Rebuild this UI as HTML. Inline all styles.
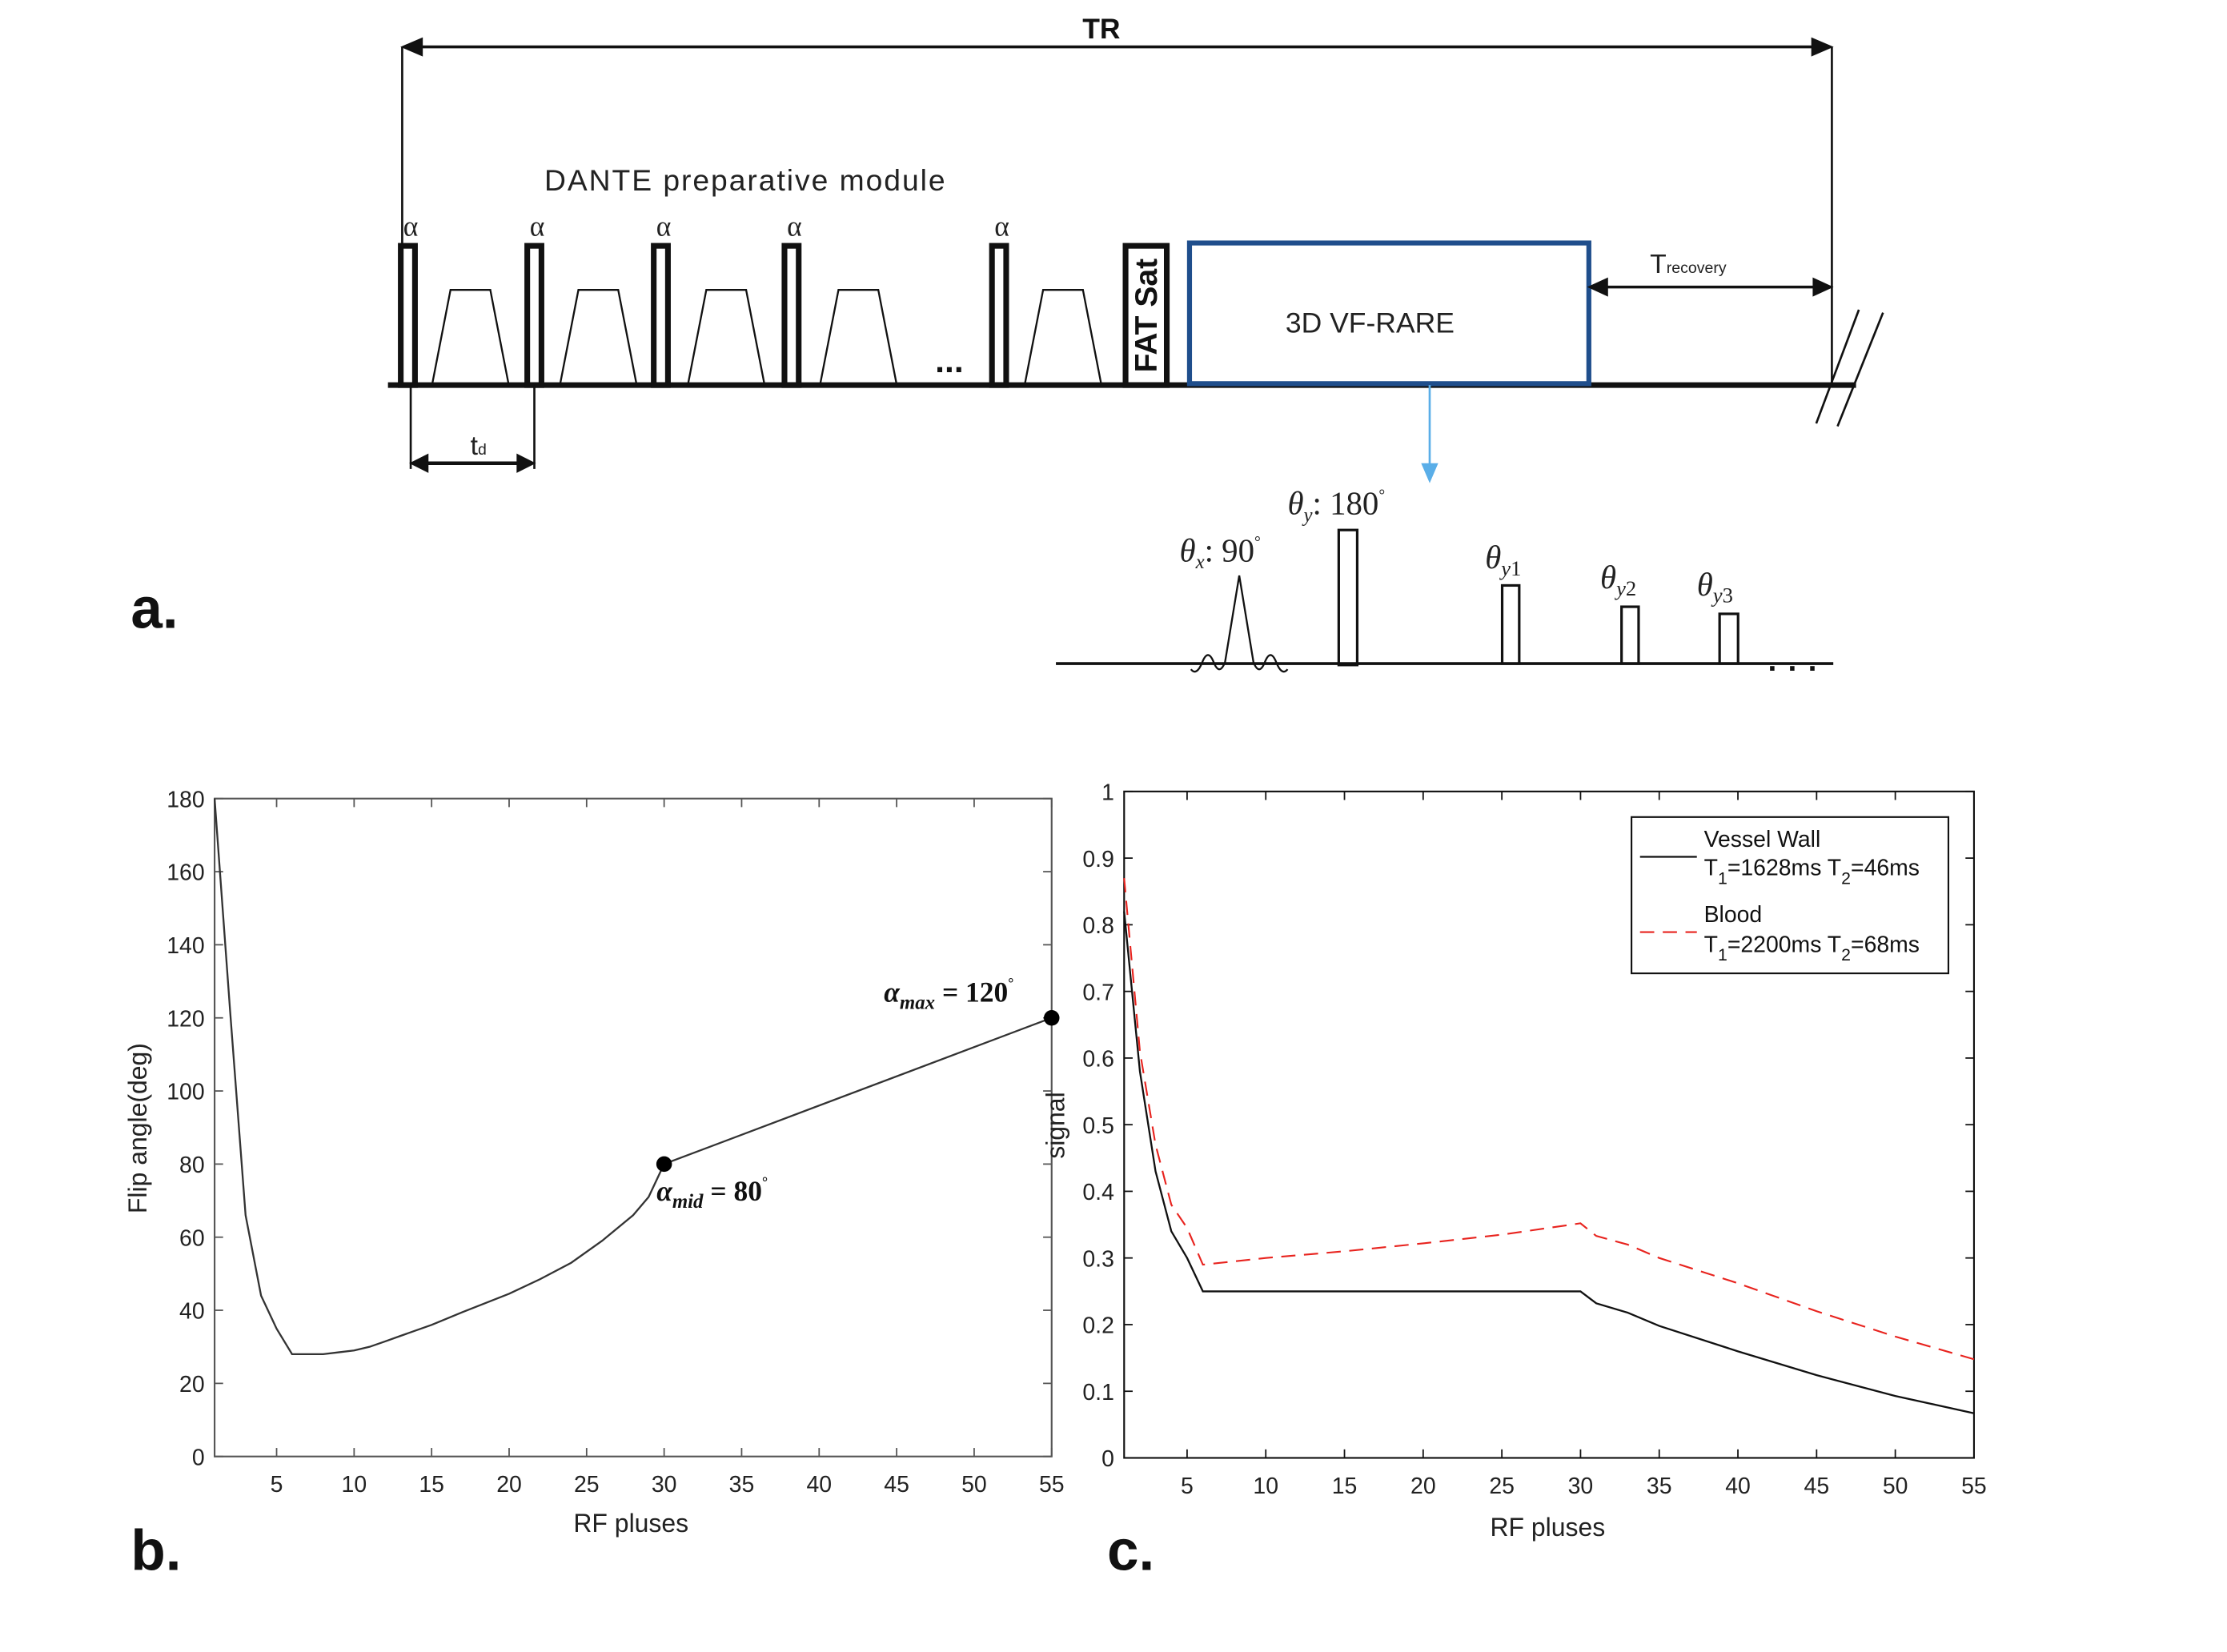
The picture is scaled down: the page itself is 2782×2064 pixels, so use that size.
<!DOCTYPE html>
<html><head><meta charset="utf-8"><style>
html,body{margin:0;padding:0;background:#fff;}
svg{display:block;font-family:"Liberation Sans",sans-serif;}
</style></head><body>
<svg id="fig" width="2782" height="2064" viewBox="0 0 1567 1162.6" preserveAspectRatio="xMinYMin meet" xmlns="http://www.w3.org/2000/svg">
<g id="panelA" fill="none" stroke="#111">
  <text x="775" y="27" font-size="20" font-weight="bold" fill="#111" stroke="none" text-anchor="middle">TR</text>
  <line x1="290" y1="33" x2="1282" y2="33" stroke-width="2"/>
  <polygon points="283,33 297,27 297,39" fill="#111"/>
  <polygon points="1289,33 1275,27 1275,39" fill="#111"/>
  <line x1="283" y1="33" x2="283" y2="172" stroke-width="1.5"/>
  <line x1="1289" y1="33" x2="1289" y2="271" stroke-width="1.5"/>
  <text x="383" y="134" font-size="21" textLength="282" fill="#222" stroke="none">DANTE preparative module</text>
  <line x1="273" y1="271" x2="1306" y2="271" stroke-width="4"/>
  <g id="pulses"></g>
  <text x="668" y="262" font-size="24" font-weight="bold" fill="#111" stroke="none" text-anchor="middle">...</text>
  <rect x="792" y="173" width="29" height="98" stroke-width="4"/>
  <text transform="translate(814,222) rotate(-90)" font-size="22" font-weight="bold" fill="#111" stroke="none" text-anchor="middle">FAT Sat</text>
  <rect x="837" y="171" width="281" height="99" stroke="#1f4e8c" stroke-width="3.5"/>
  <text x="964" y="234" font-size="20" fill="#222" stroke="none" text-anchor="middle">3D VF-RARE</text>
  <line x1="1125" y1="202" x2="1282" y2="202" stroke-width="2"/>
  <polygon points="1118,202 1131,196 1131,208" fill="#111"/>
  <polygon points="1289,202 1276,196 1276,208" fill="#111"/>
  <text x="1161" y="192" font-size="19" fill="#222" stroke="none">T<tspan font-size="11">recovery</tspan></text>
  <line x1="1278" y1="298" x2="1308" y2="218" stroke-width="1.5"/>
  <line x1="1293" y1="300" x2="1325" y2="220" stroke-width="1.5"/>
  <line x1="289" y1="271" x2="289" y2="330" stroke-width="1.5"/>
  <line x1="376" y1="271" x2="376" y2="330" stroke-width="1.5"/>
  <line x1="296" y1="326" x2="369" y2="326" stroke-width="2.5"/>
  <polygon points="289,326 301,320 301,332" fill="#111"/>
  <polygon points="376,326 364,320 364,332" fill="#111"/>
  <text x="331" y="320" font-size="19" fill="#222" stroke="none">t<tspan font-size="11">d</tspan></text>
  <line x1="1006" y1="271" x2="1006" y2="330" stroke="#5aaee8" stroke-width="1.5"/>
  <polygon points="1000,326 1012,326 1006,340" fill="#5aaee8" stroke="none"/>
  <line x1="743" y1="467" x2="1290" y2="467" stroke-width="2"/>
  <path d="M838,471 Q842,476 846,466 Q850,456 854,466 Q858,476 862,466 L872,405 L882,466 Q886,476 890,466 Q894,456 898,466 Q902,476 906,471" stroke-width="1.3"/>
  <rect x="942" y="373" width="13" height="95" stroke-width="1.8"/>
  <rect x="1057" y="412" width="12" height="55" stroke-width="1.8"/>
  <rect x="1141" y="427" width="12" height="40" stroke-width="1.8"/>
  <rect x="1210" y="432" width="13" height="35" stroke-width="1.8"/>
  <text x="1244" y="472" font-size="22" font-weight="bold" fill="#111" stroke="none" letter-spacing="8">...</text>
  <g font-family="Liberation Serif,serif" fill="#222" stroke="none" font-size="23">
    <text x="830" y="395"><tspan font-style="italic">θ</tspan><tspan font-size="14" font-style="italic" dy="5">x</tspan><tspan dy="-5">: 90</tspan><tspan font-size="11" dy="-10">°</tspan></text>
    <text x="906" y="362"><tspan font-style="italic">θ</tspan><tspan font-size="14" font-style="italic" dy="5">y</tspan><tspan dy="-5">: 180</tspan><tspan font-size="11" dy="-10">°</tspan></text>
    <text x="1045" y="400"><tspan font-style="italic">θ</tspan><tspan font-size="15" dy="5"><tspan font-style="italic">y</tspan>1</tspan></text>
    <text x="1126" y="414"><tspan font-style="italic">θ</tspan><tspan font-size="15" dy="5"><tspan font-style="italic">y</tspan>2</tspan></text>
    <text x="1194" y="419"><tspan font-style="italic">θ</tspan><tspan font-size="15" dy="5"><tspan font-style="italic">y</tspan>3</tspan></text>
  </g>
  <text x="92" y="442" font-size="40" font-weight="bold" fill="#111" stroke="none">a.</text>
</g>
<g id="chartB"></g>
<g id="chartC"></g>
</svg>
<script>
// Chart b data
const bX = [1,2,3,4,5,6,7,8,9,10,11,12,13,15,17,20,22,24,26,28,29,30,55];
const bY = [180,122,66,44,35,28,28,28,28.5,29,30,31.5,33,36,39.5,44.5,48.5,53,59,66,71,80,120];
const bXTicks = [5,10,15,20,25,30,35,40,45,50,55];
const bYTicks = [0,20,40,60,80,100,120,140,160,180];
// Chart c data
const cX = [1,2,3,4,5,6,10,15,20,25,30,31,33,35,40,45,50,55];
const wallY = [0.82,0.58,0.43,0.34,0.30,0.25,0.25,0.25,0.25,0.25,0.25,0.232,0.218,0.198,0.160,0.124,0.093,0.067];
const bloodY = [0.87,0.61,0.47,0.38,0.345,0.29,0.30,0.31,0.322,0.335,0.352,0.333,0.32,0.30,0.262,0.22,0.182,0.148];
const cXTicks = [5,10,15,20,25,30,35,40,45,50,55];
const cYTicks = [0,0.1,0.2,0.3,0.4,0.5,0.6,0.7,0.8,0.9,1];
const cYLabels = ['0','0.1','0.2','0.3','0.4','0.5','0.6','0.7','0.8','0.9','1'];

const NS='http://www.w3.org/2000/svg';
function mk(tag, attrs, parent){const e=document.createElementNS(NS,tag);for(const k in attrs)e.setAttribute(k,attrs[k]);parent.appendChild(e);return e;}

const pg=document.getElementById('pulses');
const pulseX=[287,376,465,557,703];
const trapX=[331,421,511,604,748];
pulseX.forEach(px=>{const r=mk('rect',{x:px-5,y:173,width:10,height:98,'stroke-width':4},pg);


const t=mk('text',{x:px+2,y:166,'font-size':20,fill:'#222',stroke:'none','text-anchor':'middle','font-family':'Liberation Serif,serif'},pg);t.textContent='α';

});
trapX.forEach(tx=>{const p=mk('path',{d:`M${tx-27},271 L${tx-14},204 L${tx+14},204 L${tx+27},271`,'stroke-width':1.3},pg);

});

function axes(g, o){
  const sx=v=>o.x0+(v-o.xmin)/(o.xmax-o.xmin)*(o.x1-o.x0);
  const sy=v=>o.y0-(v-o.ymin)/(o.ymax-o.ymin)*(o.y0-o.y1);
  const box=mk('rect',{x:o.x0,y:o.y1,width:o.x1-o.x0,height:o.y0-o.y1,fill:'none',stroke:o.axc,'stroke-width':1.2},g);
  
  
  o.xt.forEach(v=>{const x=sx(v);
    mk('line',{x1:x,y1:o.y0,x2:x,y2:o.y0-6,stroke:o.axc},g);
    mk('line',{x1:x,y1:o.y1,x2:x,y2:o.y1+6,stroke:o.axc},g);
    const t=mk('text',{x:x,y:o.y0+25,'font-size':16,'text-anchor':'middle',fill:'#222'},g);t.textContent=v;
    
    });
  o.yt.forEach((v,i)=>{const y=sy(v);
    mk('line',{x1:o.x0,y1:y,x2:o.x0+6,y2:y,stroke:o.axc},g);
    mk('line',{x1:o.x1,y1:y,x2:o.x1-6,y2:y,stroke:o.axc},g);
    const t=mk('text',{x:o.x0-7,y:y+6,'font-size':16,'text-anchor':'end',fill:'#222'},g);t.textContent=o.yl?o.yl[i]:v;
    
    });
  return {sx,sy};
}
function line(g,xs,ys,s,attrs,name){
  const d=xs.map((x,i)=>(i?'L':'M')+s.sx(x).toFixed(1)+','+s.sy(ys[i]).toFixed(1)).join(' ');
  const p=mk('path',Object.assign({d:d,fill:'none'},attrs),g);
  
  
}
const gb=document.getElementById('chartB');
const sb=axes(gb,{x0:151,x1:740,y0:1025,y1:562,xmin:1,xmax:55,ymin:0,ymax:180,xt:bXTicks,yt:bYTicks,axc:'#555'});
line(gb,bX,bY,sb,{stroke:'#333','stroke-width':1.3},'flip-angle-line');
[[30,80],[55,120]].forEach(p=>{const c=mk('circle',{cx:sb.sx(p[0]),cy:sb.sy(p[1]),r:5.5,fill:'#000'},gb);

});
let t=mk('text',{x:462,y:845,'font-size':20,'font-family':'Liberation Serif,serif','font-weight':'bold',fill:'#111'},gb);
t.innerHTML='<tspan font-style="italic">α</tspan><tspan font-size="14" font-style="italic" dy="5">mid</tspan><tspan dy="-5"> = 80</tspan><tspan font-size="10" dy="-10">°</tspan>';


t=mk('text',{x:622,y:705,'font-size':20,'font-family':'Liberation Serif,serif','font-weight':'bold',fill:'#111'},gb);
t.innerHTML='<tspan font-style="italic">α</tspan><tspan font-size="14" font-style="italic" dy="5">max</tspan><tspan dy="-5"> = 120</tspan><tspan font-size="10" dy="-10">°</tspan>';


t=mk('text',{x:444,y:1078,'font-size':18,'text-anchor':'middle',fill:'#222'},gb);t.textContent='RF pluses';


t=mk('text',{transform:'translate(103,794) rotate(-90)','font-size':18,'text-anchor':'middle',fill:'#222'},gb);t.textContent='Flip angle(deg)';


t=mk('text',{x:92,y:1105,'font-size':40,'font-weight':'bold',fill:'#111'},gb);t.textContent='b.';


const gc=document.getElementById('chartC');
const sc=axes(gc,{x0:791,x1:1389,y0:1026,y1:557,xmin:1,xmax:55,ymin:0,ymax:1,xt:cXTicks,yt:cYTicks,yl:cYLabels,axc:'#111'});
line(gc,cX,bloodY,sc,{stroke:'#e8231e','stroke-width':1.2,'stroke-dasharray':'10,6'},'blood-line');
line(gc,cX,wallY,sc,{stroke:'#111','stroke-width':1.3},'vessel-wall-line');
const lg=mk('g',{},gc);


mk('rect',{x:1148,y:575,width:223,height:110,fill:'#fff',stroke:'#111','stroke-width':1.2},lg);
mk('line',{x1:1154,y1:603,x2:1194,y2:603,stroke:'#111','stroke-width':1.3},lg);
mk('line',{x1:1154,y1:656,x2:1194,y2:656,stroke:'#e8231e','stroke-width':1.2,'stroke-dasharray':'10,6'},lg);
t=mk('text',{x:1199,y:596,'font-size':16,fill:'#111'},lg);t.textContent='Vessel Wall';
t=mk('text',{x:1199,y:616,'font-size':16,fill:'#111'},lg);t.innerHTML='T<tspan font-size="12" dy="6">1</tspan><tspan dy="-6">=1628ms T</tspan><tspan font-size="12" dy="6">2</tspan><tspan dy="-6">=46ms</tspan>';
t=mk('text',{x:1199,y:649,'font-size':16,fill:'#111'},lg);t.textContent='Blood';
t=mk('text',{x:1199,y:670,'font-size':16,fill:'#111'},lg);t.innerHTML='T<tspan font-size="12" dy="6">1</tspan><tspan dy="-6">=2200ms T</tspan><tspan font-size="12" dy="6">2</tspan><tspan dy="-6">=68ms</tspan>';
t=mk('text',{x:1089,y:1081,'font-size':18,'text-anchor':'middle',fill:'#222'},gc);t.textContent='RF pluses';


t=mk('text',{transform:'translate(749,792) rotate(-90)','font-size':18,'text-anchor':'middle',fill:'#222'},gc);t.textContent='signal';


t=mk('text',{x:779,y:1105,'font-size':40,'font-weight':'bold',fill:'#111'},gc);t.textContent='c.';


</script>
</body></html>
